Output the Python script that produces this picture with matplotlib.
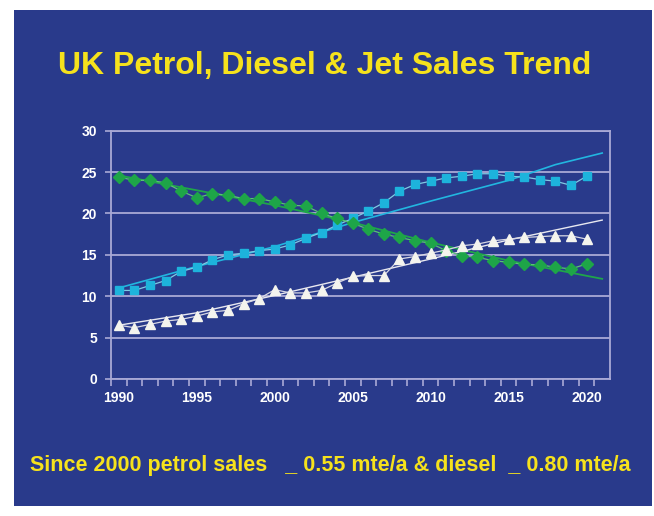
import matplotlib.pyplot as plt
from matplotlib.patches import Rectangle

plt.rcParams['font.family'] = ['Liberation Sans', 'DejaVu Sans']
plt.rcParams['font.weight'] = 'bold'

# data (million tonnes)
years = list(range(1990, 2021))
diesel = [24.4, 24.0, 24.0, 23.7, 22.7, 21.9, 22.4, 22.2, 21.8, 21.8,
          21.4, 21.0, 20.9, 20.0, 19.4, 18.8, 18.1, 17.5, 17.1, 16.7,
          16.4, 15.5, 14.9, 14.7, 14.3, 14.1, 13.85, 13.8, 13.5, 13.3, 13.9]
petrol = [10.7, 10.7, 11.3, 11.9, 13.0, 13.5, 14.4, 15.0, 15.2, 15.5,
          15.7, 16.2, 17.0, 17.7, 18.6, 19.4, 20.3, 21.3, 22.7, 23.5,
          23.9, 24.3, 24.5, 24.8, 24.8, 24.5, 24.4, 24.1, 23.9, 23.4, 24.5]
jet = [6.5, 6.2, 6.6, 7.0, 7.2, 7.6, 8.1, 8.3, 9.1, 9.7,
       10.8, 10.4, 10.4, 10.7, 11.6, 12.4, 12.5, 12.5, 14.5, 14.8,
       15.2, 15.6, 16.1, 16.3, 16.7, 16.9, 17.1, 17.2, 17.3, 17.3, 16.9]

# trend lines
trend_years = [1990, 1995, 2000, 2005, 2010, 2015, 2018, 2021]
petrol_trend = [11.0, 13.6, 16.0, 18.9, 21.5, 24.0, 25.9, 27.3]
diesel_trend = [24.6, 22.8, 21.0, 18.9, 16.5, 14.3, 13.2, 12.1]
jet_trend = [6.5, 8.0, 10.1, 12.3, 14.5, 16.8, 18.0, 19.2]

title = "UK Petrol, Diesel & Jet Sales Trend"
note = "Since 2000 petrol sales   _ 0.55 mte/a & diesel  _ 0.80 mte/a"

bg = '#293a8b'
grid_c = '#a9a9d6'
yellow = '#f6e21c'

fig = plt.figure(figsize=(6.54, 5.16), dpi=100)
fig.patch.set_facecolor('white')
fig.patches.append(Rectangle((14/654, 10/516), 638/654, 496/516,
                             transform=fig.transFigure, facecolor=bg,
                             edgecolor='none', zorder=-5))

ax = fig.add_axes([111/654, 1 - 379/516, 499/654, 248.3/516])
ax.set_zorder(2)
ax.set_facecolor(bg)

ax.plot(trend_years, petrol_trend, c='#22b6e0', lw=1.2, zorder=2)
ax.plot(trend_years, diesel_trend, c='#1fa64a', lw=1.3, zorder=2)
ax.plot(trend_years, jet_trend, c='#e8e8f0', lw=1.0, zorder=2)

ax.plot(years, petrol, c='#7fcbe4', lw=0.9, marker='s', markersize=6,
        markerfacecolor='#1db3dc', markeredgecolor='#1db3dc', zorder=3)
ax.plot(years, diesel, c='#5cbf77', lw=0.9, marker='D', markersize=6,
        markerfacecolor='#1ea548', markeredgecolor='#1ea548', zorder=3)
ax.plot(years, jet, c='#d8d8e4', lw=0.9, marker='^', markersize=7,
        markerfacecolor='#f4f4ee', markeredgecolor='#f4f4ee', zorder=3)

ax.set_xlim(1989.5, 2021.5)
ax.set_ylim(0, 30)
ax.set_yticks(range(0, 31, 5))
ax.set_xticks(range(1990, 2021, 5))
ax.set_xticks([y + 0.5 for y in range(1989, 2021)], minor=True)
ax.grid(axis='y', color=grid_c, lw=1.3, zorder=1)
for s in ax.spines.values():
    s.set_color(grid_c)
    s.set_linewidth(1.3)
ax.tick_params(axis='x', which='major', length=0, pad=9, labelsize=10,
               colors='white')
ax.tick_params(axis='x', which='minor', length=5, width=1.2, color=grid_c)
ax.tick_params(axis='y', length=4, width=1.2, color=grid_c, labelsize=10,
               labelcolor='white', pad=6)

fig.text(0.497, 1 - 66/516, title, color=yellow, fontsize=23,
         fontweight='bold', ha='center', va='center', zorder=3)
fig.text(0.505, 1 - 465/516, note, color=yellow, fontsize=15.5,
         fontweight='bold', ha='center', va='center', zorder=3)

plt.savefig("out.png", dpi=100, facecolor=fig.get_facecolor())
